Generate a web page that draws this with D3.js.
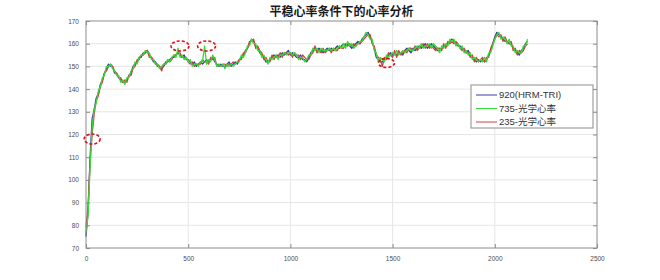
<!DOCTYPE html>
<html>
<head>
<meta charset="utf-8">
<script src="https://cdn.jsdelivr.net/npm/d3@7"></script>
<style>
  body { margin: 0; background: #fff; }
  svg text { font-family: "Liberation Sans", Arial, sans-serif; }
</style>
</head>
<body>
<svg id="chart"></svg>
<script>
// 数据：每10个采样点一个值
const step = 10;
const seriesNames = ["920(HRM-TRI)", "735-光学心率", "235-光学心率"];
const xTicks = [0, 500, 1000, 1500, 2000, 2500];
const yTicks = [70, 80, 90, 100, 110, 120, 130, 140, 150, 160, 170];

const hrm920 = [
  75,86,110,127,131,136,138,142,144,147,
  149,151,150,150,147,147,145,144,143,143,
  144,146,147,150,151,152,154,154,156,156,
  157,155,154,152,152,150,150,149,150,152,
  152,153,154,154,155,156,155,154,155,153,
  153,152,151,152,150,151,152,151,152,153,
  152,153,154,152,151,150,151,150,150,151,
  152,150,151,152,151,153,154,155,157,158,
  160,162,161,159,158,156,155,154,152,152,
  153,154,155,154,155,154,156,155,156,157,
  155,156,155,154,154,155,153,153,152,154,
  156,157,158,157,158,157,156,157,158,157,
  158,157,158,159,158,159,160,159,160,159,
  158,159,160,161,160,162,163,164,165,163,
  161,158,154,153,152,152,153,154,155,156,
  155,156,155,156,156,155,157,158,157,156,
  158,157,158,159,158,159,160,158,159,160,
  159,158,157,157,158,159,159,160,161,162,
  161,160,159,159,158,157,156,157,155,154,
  153,152,153,152,153,152,153,155,157,160,
  163,165,164,163,162,161,161,160,160,158,
  157,156,155,157,158,160,161
];

const opt735 = [
  77,84,106,123,131,134,139,141,145,146,
  150,150,151,149,148,146,146,143,144,142,
  145,145,148,149,152,151,154,155,155,157,
  156,156,153,153,151,151,149,150,151,151,
  153,152,154,155,154,158,154,155,153,154,
  152,153,150,151,151,150,152,152,159,151,
  153,152,155,153,150,151,150,151,149,151,
  150,151,150,151,152,152,155,154,156,159,
  159,162,160,160,157,157,154,155,153,151,
  154,153,154,155,153,155,155,156,155,156,
  156,155,156,155,153,154,154,152,153,155,
  155,158,157,158,156,158,157,157,157,158,
  157,158,157,158,159,158,160,158,161,159,
  160,158,159,160,161,161,163,165,164,162,
  162,157,156,152,154,153,152,155,154,155,
  156,155,157,155,156,157,156,157,158,157,
  157,158,159,158,160,158,159,159,160,158,
  160,159,158,156,159,158,160,159,162,161,
  162,159,160,158,159,156,157,155,156,153,
  154,153,152,153,152,154,152,156,156,159,
  162,164,165,162,163,162,160,162,159,159,
  156,157,156,156,159,159,162
];

const opt235 = [
  79,88,108,120,129,135,137,141,143,147,
  148,150,151,150,148,147,145,145,143,144,
  143,146,146,149,150,153,153,155,155,156,
  157,154,154,153,151,151,150,148,151,151,
  153,152,153,155,155,156,156,154,154,154,
  152,151,152,150,151,151,151,153,152,152,
  151,154,153,154,150,151,150,151,151,150,
  151,151,152,151,152,153,153,156,156,158,
  161,161,162,158,159,157,156,153,154,152,
  152,155,153,155,154,156,154,156,156,155,
  156,154,156,155,155,153,155,154,153,153,
  155,156,159,156,157,156,158,156,157,158,
  156,158,157,157,159,158,158,160,159,160,
  159,160,159,160,160,161,162,163,164,164,
  160,159,155,154,153,150,154,153,156,155,
  154,157,154,157,155,156,157,156,158,158,
  157,159,157,158,159,160,158,160,158,159,
  158,157,158,158,157,160,158,161,160,161,
  160,161,160,158,157,158,156,156,154,155,
  152,154,152,153,154,152,154,154,158,160,
  162,164,163,164,161,163,161,160,161,157,
  158,155,157,156,157,159,160
];

const colors = ["#3a3aa8", "#33dd33", "#d04040"];

// 配置
const W = 660, H = 280;
const margin = { top: 21, right: 63, bottom: 32, left: 86 };
const width = W - margin.left - margin.right;
const height = H - margin.top - margin.bottom;

const x = d3.scaleLinear().domain([0, 2500]).range([0, width]);
const y = d3.scaleLinear().domain([70, 170]).range([height, 0]);

const svg = d3.select("#chart").attr("width", W).attr("height", H);
svg.append("rect").attr("width", W).attr("height", H).attr("fill", "#fff");

const g = svg.append("g")
  .attr("transform", "translate(" + margin.left + "," + margin.top + ")");

// 网格
g.append("g").selectAll("line").data(xTicks.slice(1, -1)).enter().append("line")
  .attr("x1", d => x(d)).attr("x2", d => x(d))
  .attr("y1", 0).attr("y2", height)
  .attr("stroke", "#e6e6e6").attr("stroke-width", 1);
g.append("g").selectAll("line").data(yTicks.slice(1, -1)).enter().append("line")
  .attr("x1", 0).attr("x2", width)
  .attr("y1", d => y(d)).attr("y2", d => y(d))
  .attr("stroke", "#e6e6e6").attr("stroke-width", 1);

// 曲线
const line = d3.line()
  .x((d, i) => x(i * step))
  .y(d => y(d));

const drawOrder = [
  { data: hrm920, color: colors[0] },
  { data: opt235, color: colors[2] },
  { data: opt735, color: colors[1] }
];
g.selectAll(".series").data(drawOrder).enter().append("path")
  .attr("class", "series")
  .attr("d", d => line(d.data))
  .attr("fill", "none")
  .attr("stroke", d => d.color)
  .attr("stroke-width", 1.3)
  .attr("stroke-linejoin", "round");

// 坐标轴（刻度朝内）
function styleAxis(sel) {
  sel.select(".domain").remove();
  sel.selectAll("line").attr("stroke", "#8c8c8c");
  sel.selectAll("text").attr("fill", "#4d4d4d").style("font-size", "6.5px");
}
g.append("g").attr("transform", "translate(0," + height + ")")
  .call(d3.axisBottom(x).tickValues(xTicks).tickFormat(d3.format("d")).tickSize(-4).tickPadding(8))
  .call(styleAxis);
g.append("g")
  .call(d3.axisLeft(y).tickValues(yTicks).tickFormat(d3.format("d")).tickSize(-4).tickPadding(7))
  .call(styleAxis);
g.append("g")
  .call(d3.axisTop(x).tickValues(xTicks).tickSize(-4).tickFormat(""))
  .call(styleAxis);
g.append("g").attr("transform", "translate(" + width + ",0)")
  .call(d3.axisRight(y).tickValues(yTicks).tickSize(-4).tickFormat(""))
  .call(styleAxis);

g.append("rect")
  .attr("width", width).attr("height", height)
  .attr("fill", "none").attr("stroke", "#8c8c8c").attr("stroke-width", 1);

// 标题
svg.append("text")
  .attr("x", margin.left + width / 2).attr("y", 16)
  .attr("text-anchor", "middle")
  .style("font-family", "'Noto Sans CJK SC', sans-serif")
  .style("font-size", "12px").style("font-weight", "bold")
  .attr("fill", "#1a1a1a")
  .text("平稳心率条件下的心率分析");

// 图例
const legend = svg.append("g").attr("transform", "translate(471,85)");
legend.append("rect")
  .attr("width", 122).attr("height", 43)
  .attr("fill", "#fff").attr("stroke", "#8c8c8c").attr("stroke-width", 1);
const items = legend.selectAll(".item").data(seriesNames).enter().append("g")
  .attr("class", "item")
  .attr("transform", (d, i) => "translate(0," + (10 + i * 13.5) + ")");
items.append("line")
  .attr("x1", 5).attr("x2", 26)
  .attr("stroke", (d, i) => colors[i]).attr("stroke-width", 1);
items.append("text")
  .attr("x", 28).attr("dy", "0.35em")
  .style("font-family", "'Liberation Sans', 'Noto Sans CJK SC', sans-serif")
  .style("font-size", "9.5px")
  .attr("fill", "#333")
  .text(d => d);

// 虚线椭圆标注
const marks = [
  { t: 30, v: 118, rx: 8, ry: 5 },
  { t: 460, v: 159, rx: 9, ry: 5 },
  { t: 590, v: 159, rx: 9, ry: 5 },
  { t: 1470, v: 151.5, rx: 8, ry: 4.5 }
];
g.selectAll(".mark").data(marks).enter().append("ellipse")
  .attr("cx", d => x(d.t)).attr("cy", d => y(d.v))
  .attr("rx", d => d.rx).attr("ry", d => d.ry)
  .attr("fill", "none").attr("stroke", "#dd1111")
  .attr("stroke-width", 1.6).attr("stroke-dasharray", "3,2");
</script>
</body>
</html>
